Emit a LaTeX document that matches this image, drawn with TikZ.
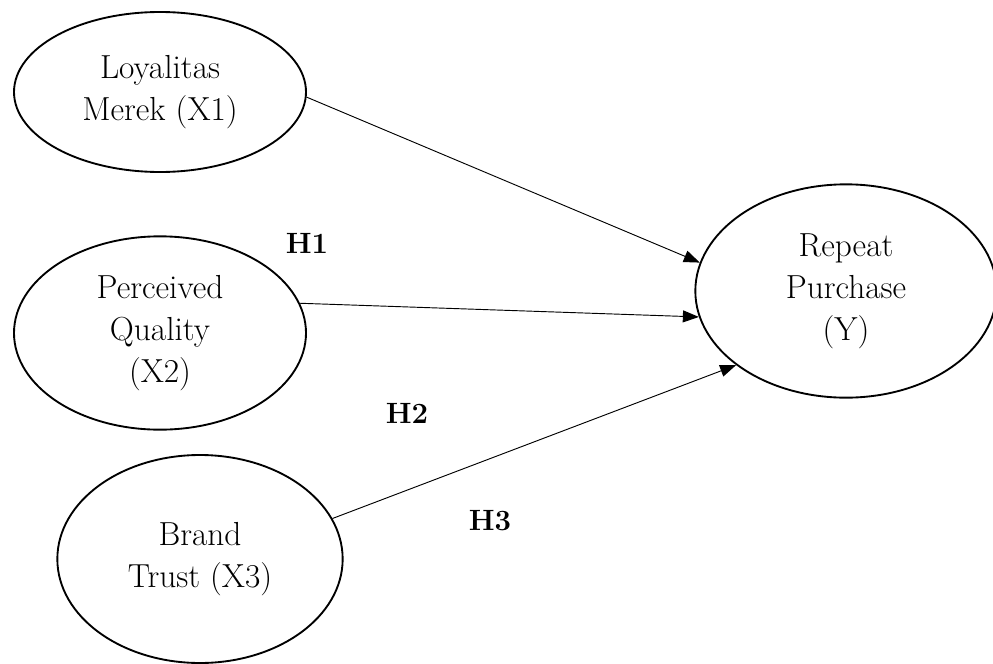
\documentclass[tikz,border=0pt]{standalone}
\usetikzlibrary{shapes.geometric,arrows.meta}

\begin{document}
\begin{tikzpicture}[x=0.75pt,y=-0.75pt,
    var/.style={ellipse,draw,line width=1.4pt,inner sep=0pt,align=center,font=\fontsize{25}{31.5}\selectfont},
    arr/.style={-{Triangle[length=12pt,width=9pt]},line width=0.7pt},
    hyp/.style={font=\fontsize{22}{25}\selectfont\bfseries}]
        \useasboundingbox (0,0) rectangle (993,664);

        \node[var,minimum width=219pt,minimum height=120pt] (x1) at (160,92) {Loyalitas\\Merek (X1)};
        \node[var,minimum width=219pt,minimum height=145pt] (x2) at (160,333) {Perceived\\Quality\\(X2)};
        \node[var,minimum width=214pt,minimum height=156pt] (x3) at (200,559) {Brand\\Trust (X3)};
        \node[var,minimum width=226pt,minimum height=160pt] (y) at (846,291) {Repeat\\Purchase\\(Y)};

        \node[hyp] (h1) at (307,243) {H1};
        \node[hyp] (h2) at (407,413) {H2};
        \node[hyp] (h3) at (490,521) {H3};

        \foreach \a/\b in {x1.-2/y.169, x2.12/y.190, x3.17/y.214}{
            \draw[arr] (\a)--(\b);
        }
    \end{tikzpicture}
\end{document}
